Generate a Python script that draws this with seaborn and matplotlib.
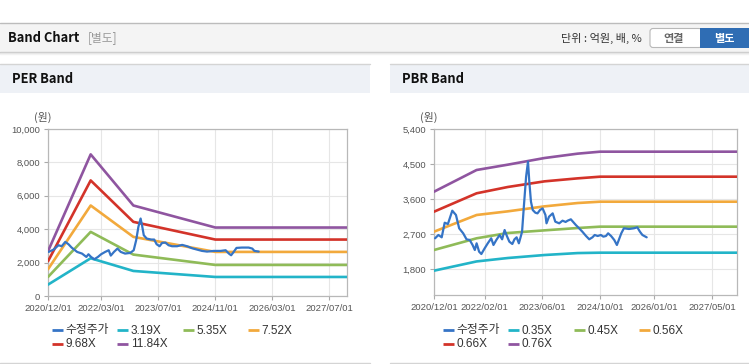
import pandas as pd
import seaborn as sns
import matplotlib.pyplot as plt
import matplotlib.dates as mdates
from matplotlib.patches import Rectangle, FancyBboxPatch

# --- PER band data (원) ---
per_dates = ["2020-12-01", "2021-12-01", "2022-12-01", "2024-11-01", "2027-12-02"]
per_319 = [680, 2260, 1500, 1140, 1140]
per_535 = [1140, 3840, 2480, 1860, 1860]
per_752 = [1600, 5420, 3540, 2640, 2640]
per_968 = [2080, 6920, 4440, 3380, 3380]
per_1184 = [2680, 8480, 5420, 4100, 4100]

per_price_dates = [
    "2020-12-07", "2021-01-18", "2021-03-01", "2021-03-28", "2021-04-28", "2021-05-25",
    "2021-06-21", "2021-08-07", "2021-09-18", "2021-10-25", "2021-11-12", "2021-12-04",
    "2022-01-01", "2022-02-01", "2022-02-28", "2022-04-04", "2022-05-04", "2022-05-22",
    "2022-06-18", "2022-07-18", "2022-08-15", "2022-09-21", "2022-11-04", "2022-12-04",
    "2022-12-25", "2023-01-13", "2023-02-01", "2023-02-13", "2023-02-28", "2023-03-25",
    "2023-05-01", "2023-05-28", "2023-06-18", "2023-07-13", "2023-08-04", "2023-09-01",
    "2023-09-28", "2023-10-28", "2023-12-10", "2024-01-22", "2024-03-04", "2024-04-16",
    "2024-05-28", "2024-07-10", "2024-08-22", "2024-10-19", "2024-12-16", "2025-01-28",
    "2025-02-25", "2025-03-16", "2025-04-07", "2025-05-01", "2025-06-16", "2025-08-13",
    "2025-09-13", "2025-10-01", "2025-11-07",
]
per_price = [
    2640, 2780, 3040, 2980, 3240, 3100,
    2900, 2640, 2540, 2340, 2500, 2340,
    2200, 2340, 2500, 2640, 2740, 2420,
    2640, 2840, 2640, 2540, 2580, 2740,
    3340, 4140, 4640, 4240, 3640, 3440,
    3380, 3380, 3100, 2980, 3180, 3200,
    3040, 2980, 2980, 3060, 2980, 2860,
    2780, 2700, 2660, 2700, 2700, 2740,
    2540, 2440, 2640, 2880, 2900, 2900,
    2840, 2700, 2660,
]
per_labels = ["3.19X", "5.35X", "7.52X", "9.68X", "11.84X"]
per_ticks = ["2020-12-01", "2022-03-01", "2023-07-01", "2024-11-01", "2026-03-01", "2027-07-01"]
per_yticks = [0, 2000, 4000, 6000, 8000, 10000]

# --- PBR band data (원) ---
pbr_dates = ["2020-12-01", "2021-11-25", "2022-08-15", "2023-06-20", "2024-03-25", "2024-10-01", "2027-11-28"]
pbr_035 = [1757, 1995, 2083, 2160, 2210, 2220, 2220]
pbr_045 = [2289, 2590, 2726, 2794, 2854, 2889, 2889]
pbr_056 = [2760, 3189, 3283, 3411, 3497, 3531, 3531]
pbr_066 = [3274, 3747, 3909, 4054, 4131, 4174, 4174]
pbr_076 = [3788, 4346, 4483, 4654, 4766, 4817, 4817]

pbr_price_dates = [
    "2020-12-10", "2021-01-07", "2021-02-04", "2021-03-01", "2021-03-28", "2021-05-04",
    "2021-06-04", "2021-07-01", "2021-08-04", "2021-09-01", "2021-09-28", "2021-10-22",
    "2021-11-10", "2021-11-25", "2021-12-16", "2022-01-04", "2022-02-01", "2022-02-27",
    "2022-03-28", "2022-04-16", "2022-05-10", "2022-06-07", "2022-06-28", "2022-07-19",
    "2022-08-07", "2022-08-28", "2022-09-22", "2022-10-10", "2022-10-28", "2022-11-16",
    "2022-11-28", "2022-12-13", "2022-12-28", "2023-01-16", "2023-02-01", "2023-02-12",
    "2023-02-26", "2023-03-13", "2023-04-04", "2023-04-22", "2023-05-13", "2023-06-04",
    "2023-06-28", "2023-07-07", "2023-07-28", "2023-08-28", "2023-09-19", "2023-10-22",
    "2023-11-19", "2023-12-15", "2024-01-01", "2024-01-28", "2024-02-22", "2024-03-10",
    "2024-04-07", "2024-05-04", "2024-06-04", "2024-07-01", "2024-07-28", "2024-08-16",
    "2024-09-10", "2024-10-07", "2024-10-28", "2024-11-19", "2024-12-07", "2025-01-01",
    "2025-01-28", "2025-02-19", "2025-03-07", "2025-03-28", "2025-04-19", "2025-06-01",
    "2025-07-13", "2025-08-10", "2025-09-01", "2025-09-22", "2025-10-28",
]
pbr_price = [
    2590, 2675, 2615, 2991, 2957, 3300,
    3189, 2847, 2718, 2564, 2546, 2418,
    2289, 2461, 2246, 2186, 2333, 2461,
    2590, 2418, 2546, 2675, 2564, 2803,
    2649, 2503, 2443, 2564, 2615, 2461,
    2590, 2760, 3402, 4174, 4560, 4045,
    3531, 3317, 3248, 3231, 3317, 3360,
    3189, 2975, 3145, 3231, 3017, 2975,
    3043, 3010, 3043, 3078, 2991, 2932,
    2847, 2760, 2649, 2564, 2615, 2675,
    2649, 2675, 2632, 2649, 2718, 2649,
    2546, 2418, 2546, 2718, 2847, 2829,
    2847, 2872, 2760, 2675, 2615,
]
pbr_labels = ["0.35X", "0.45X", "0.56X", "0.66X", "0.76X"]
pbr_ticks = ["2020-12-01", "2022-02-01", "2023-06-01", "2024-10-01", "2026-01-01", "2027-05-01"]
pbr_yticks = [1800, 2700, 3600, 4500, 5400]

price_label = "수정주가"
band_colors = ["#22b4c8", "#8fbb58", "#f2a93c", "#d33329", "#8f55a0"]
price_color = "#3574c6"

sns.set_style("white")
plt.rcParams["font.family"] = ["Liberation Sans", "Noto Sans CJK KR"]
KR = ["Noto Sans CJK KR", "DejaVu Sans"]
MIX = ["Liberation Sans", "Noto Sans CJK KR"]

W, H = 749, 364
fig = plt.figure(figsize=(W / 100, H / 100), dpi=100)

# page background drawn in pixel coordinates
bg = fig.add_axes([0, 0, 1, 1], zorder=0)
bg.set_xlim(0, W)
bg.set_ylim(H, 0)
bg.axis("off")

bg.add_patch(Rectangle((0, 23), W, 28.5, color="#f4f4f4", lw=0))
bg.plot([0, W], [22.5, 22.5], color="#bcbcbc", lw=1)
bg.plot([0, W], [51.5, 51.5], color="#c9c9c9", lw=1)
bg.plot([0, W], [52.5, 52.5], color="#e4e4e4", lw=1)
bg.plot([0, W], [53.5, 53.5], color="#f2f2f2", lw=1)
bg.text(8, 38, "Band Chart", family=KR, weight="bold", fontsize=9.3, color="#111111", va="center")
bg.text(88, 38, "[별도]", family=KR, fontsize=8.5, color="#999999", va="center")
bg.text(642, 38, "단위 : 억원, 배, %", family=KR, fontsize=8, color="#333333", va="center", ha="right")
bg.add_patch(FancyBboxPatch((650, 28.5), 52, 19, boxstyle="round,pad=0,rounding_size=3",
                            fc="white", ec="#b8b8b8", lw=0.8))
bg.text(674, 38.5, "연결", family=KR, weight="bold", fontsize=8, color="#666666", va="center", ha="center")
bg.add_patch(Rectangle((700, 28), 49, 20, color="#2f6db4", lw=0))
bg.text(724, 38.5, "별도", family=KR, weight="bold", fontsize=8, color="white", va="center", ha="center")

for x0, x1, title in [(0, 370, "PER Band"), (390, W, "PBR Band")]:
    bg.add_patch(Rectangle((x0, 63.5), x1 - x0, 29, color="#eef1f6", lw=0))
    bg.plot([x0, x1], [63.5, 63.5], color="#d4d4d4", lw=1)
    bg.plot([x0, x1], [362.5, 362.5], color="#d4d4d4", lw=1)
    bg.text(x0 + 12, 79, title, family=KR, weight="bold", fontsize=9.3, color="#111111", va="center")


def draw_panel(rect, dates, bands, labels, pdates, prices, ticks, yticks, ylim, xlim, legend_x, unit_x):
    ax = fig.add_axes([rect[0] / W, 1 - rect[3] / H, (rect[2] - rect[0]) / W, (rect[3] - rect[1]) / H], zorder=2)
    ax.set_facecolor("white")
    d = pd.to_datetime(dates)
    for vals, col in zip(bands, band_colors):
        sns.lineplot(x=d, y=vals, ax=ax, color=col, lw=1.9, zorder=3)
    sns.lineplot(x=pd.to_datetime(pdates), y=prices, ax=ax, color=price_color, lw=1.6, zorder=4)
    ax.set_xlim(pd.Timestamp(xlim[0]), pd.Timestamp(xlim[1]))
    ax.set_ylim(*ylim)
    ax.set_xticks(pd.to_datetime(ticks))
    ax.xaxis.set_major_formatter(mdates.DateFormatter("%Y/%m/%d"))
    ax.set_yticks(yticks)
    ax.set_yticklabels([f"{v:,}" for v in yticks])
    ax.grid(True, color="#e6e6e6", lw=0.8)
    ax.set_axisbelow(True)
    for s in ax.spines.values():
        s.set_color("#b8b8b8")
        s.set_linewidth(0.9)
    ax.tick_params(axis="both", length=3, width=0.8, color="#aaaaaa", labelsize=6.8,
                   labelcolor="#555555", pad=2.5, direction="out", bottom=True, left=True)
    ax.set_xlabel("")
    ax.set_ylabel("")
    bg.text(unit_x, 117, "(원)", family=KR, fontsize=7.8, color="#555555", va="center", ha="center")

    # legend, 4 columns of fixed width
    names = [price_label] + labels
    cols = [price_color] + band_colors
    for i, (name, col) in enumerate(zip(names, cols)):
        lx = legend_x + (i % 4) * 65.3
        ly = 330 + (i // 4) * 13.5
        bg.plot([lx, lx + 11], [ly, ly], color=col, lw=2, solid_capstyle="butt")
        bg.text(lx + 13.5, ly + 0.5, name, family=MIX, fontsize=8.5, color="#333333", va="center")
    return ax


draw_panel((48, 129, 347, 296), per_dates, [per_319, per_535, per_752, per_968, per_1184], per_labels,
           per_price_dates, per_price, per_ticks, per_yticks, (0, 10000), ("2020-12-01", "2027-12-02"), 52, 43)
draw_panel((434, 129, 737, 295), pbr_dates, [pbr_035, pbr_045, pbr_056, pbr_066, pbr_076], pbr_labels,
           pbr_price_dates, pbr_price, pbr_ticks, pbr_yticks, (1132, 5400), ("2020-12-01", "2027-11-28"), 443, 429)

fig.savefig("out.png", dpi=100, facecolor="white")
